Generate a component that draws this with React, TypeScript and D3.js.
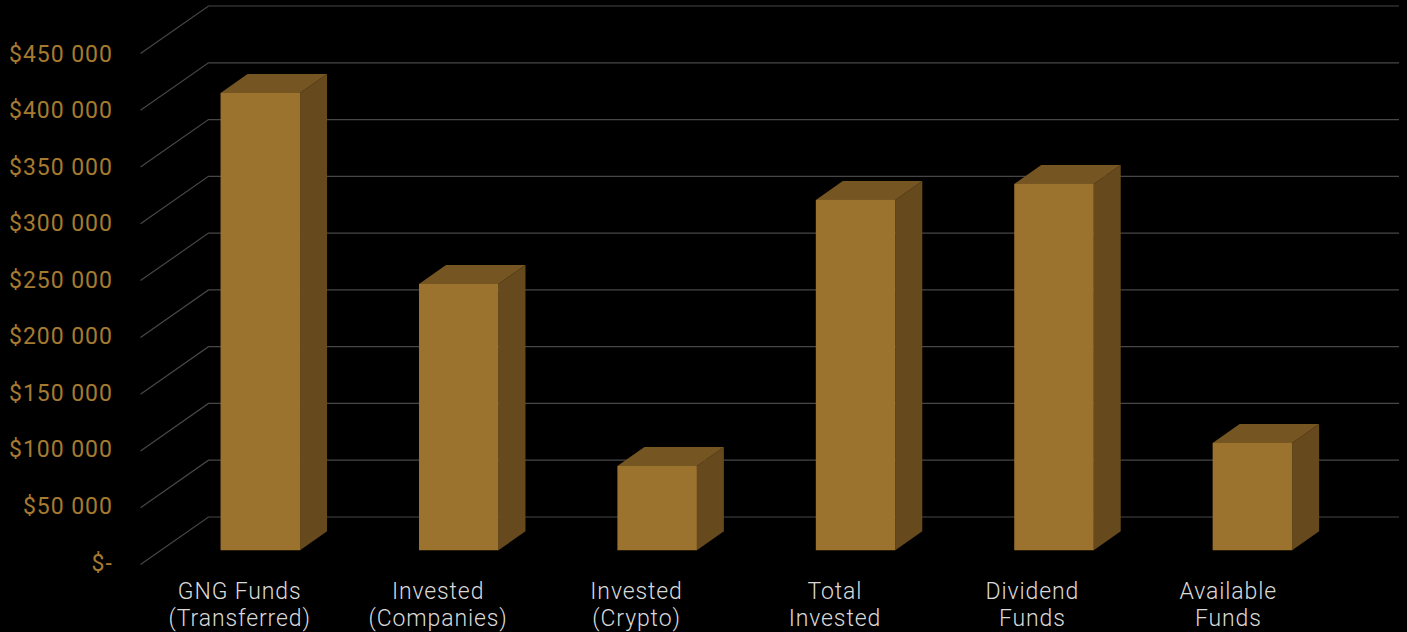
import React from "react";
import * as d3 from "d3";

const categories = [
  ["GNG Funds", "(Transferred)"],
  ["Invested", "(Companies)"],
  ["Invested", "(Crypto)"],
  ["Total", "Invested"],
  ["Dividend", "Funds"],
  ["Available", "Funds"],
];
const values = [402700, 234500, 74200, 308500, 322600, 94500];
const ticks = [0, 50000, 100000, 150000, 200000, 250000, 300000, 350000, 400000, 450000];
const tickLabels = ["$-", "$50 000", "$100 000", "$150 000", "$200 000", "$250 000", "$300 000", "$350 000", "$400 000", "$450 000"];

const W = 1407, H = 632;
const FRONT_X0 = 140.5, FRONT_X1 = 1331;
const DEPTH_X = 68, DEPTH_Y = 47.5;
const BAR_T = 0.3, BAR_DX = 27, BAR_DY = 19;

export default function App() {
  const y = d3.scaleLinear().domain([0, 450000]).range([564.5, 53.5]);
  const labelY = d3.scaleLinear().domain([0, 450000]).range([562.5, 53.5]);
  const step = (FRONT_X1 - FRONT_X0) / categories.length;
  const bw = 79.5;
  const ox = DEPTH_X * BAR_T + 0.2, oy = -DEPTH_Y * BAR_T;
  const poly = (p: number[][]) => d3.line()(p as [number, number][]) + "Z";
  return (
    <svg width={W} height={H} style={{ position: "fixed", left: 0, top: 0, background: "#000" }}>
      <rect width={W} height={H} fill="#000" />
      {ticks.map((t) => (
        <path key={t} fill="none" stroke="#474747" strokeWidth={1.2}
          d={d3.line()([[FRONT_X0, y(t)], [FRONT_X0 + DEPTH_X, y(t) - DEPTH_Y], [W - 8, y(t) - DEPTH_Y]]) as string} />
      ))}
      {values.map((v, i) => {
        const c = FRONT_X0 + step * (i + 0.5);
        const l = c - bw / 2 + ox, r = l + bw;
        const b = y(0) + oy, t = y(v) + oy;
        return (
          <g key={i}>
            <path d={poly([[r, t], [r + BAR_DX, t - BAR_DY], [r + BAR_DX, b - BAR_DY], [r, b]])} fill="#66491d" />
            <path d={poly([[l, t], [l + BAR_DX, t - BAR_DY], [r + BAR_DX, t - BAR_DY], [r, t]])} fill="#755522" />
            <rect x={l} y={t} width={bw} height={b - t} fill="#9c732e" />
          </g>
        );
      })}
      {ticks.map((t, i) => (
        <text key={t} x={112.8} y={labelY(t) + 8} textAnchor="end" fill="#a67a30" fontFamily="Roboto" fontSize={23} letterSpacing={0.95}>{tickLabels[i]}</text>
      ))}
      {categories.map((lines, i) => (
        <text key={i} textAnchor="middle" fill="#d9d9d9" fontFamily="Roboto" fontWeight={300} fontSize={23} letterSpacing={0.88}>
          {lines.map((s, j) => (
            <tspan key={j} x={FRONT_X0 + step * (i + 0.5) - (i === 5 ? 3.5 : i === 4 ? 1 : 0)} y={599 + j * 27}>{s}</tspan>
          ))}
        </text>
      ))}
    </svg>
  );
}
